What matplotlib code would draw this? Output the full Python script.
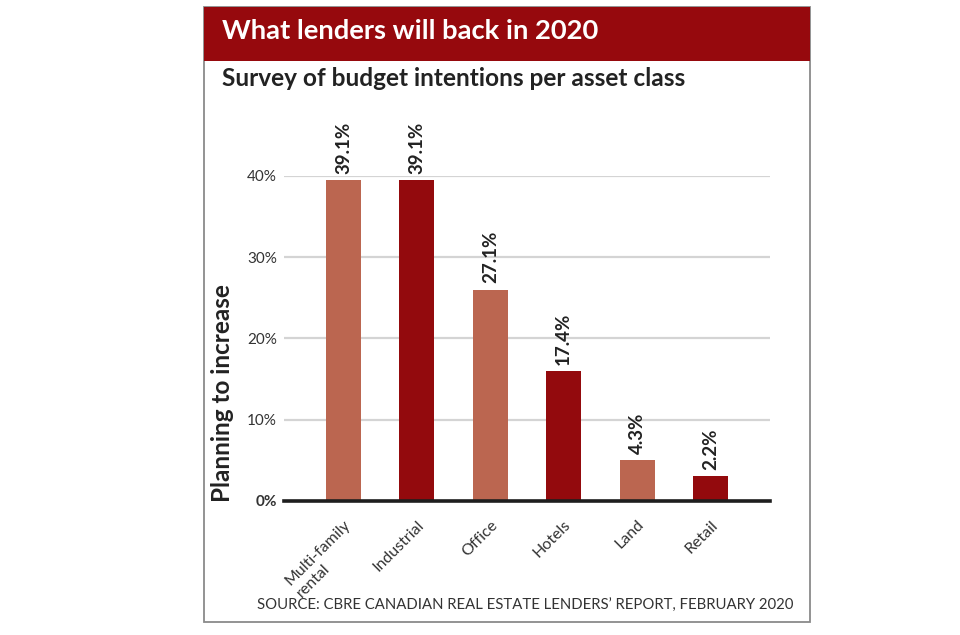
import matplotlib.pyplot as plt
from matplotlib.patches import Rectangle

# --- Data ---
categories = ["Multi-family\nrental", "Industrial", "Office", "Hotels", "Land", "Retail"]
bar_heights = [39.5, 39.5, 26.0, 16.0, 5.0, 3.1]
value_labels = ["39.1%", "39.1%", "27.1%", "17.4%", "4.3%", "2.2%"]
y_ticks = [0, 10, 20, 30, 40]
y_tick_labels = ["0%", "10%", "20%", "30%", "40%"]

light = "#bb6650"
dark = "#930a0d"
bar_colors = [light, dark, light, dark, light, dark]

plt.rcParams.update(
    {
        "font.family": ["Lato", "DejaVu Sans"],
        "text.color": "#222222",
    }
)

W, H = 960, 635
fig = plt.figure(figsize=(W / 100, H / 100), dpi=100)

# outer frame and red header band
fig.patches.append(
    Rectangle((204 / W, 1 - 622 / H), 606 / W, 615 / H, transform=fig.transFigure,
              facecolor="none", edgecolor="#8a8a8a", lw=1.3, zorder=-1)
)
fig.patches.append(
    Rectangle((204 / W, 1 - 61 / H), 606 / W, 54 / H, transform=fig.transFigure,
              facecolor="#96090d", edgecolor="none", zorder=-1)
)
fig.text(222 / W, 1 - 31 / H, "What lenders will back in 2020", color="white",
         fontsize=19.7, fontweight="bold", va="center", ha="left")
fig.text(222 / W, 1 - 78 / H, "Survey of budget intentions per asset class",
         color="#222222", fontsize=17.6, fontweight="bold", va="center", ha="left")

# --- Axes ---
ax = fig.add_axes([284 / W, 1 - 501 / H, 486 / W, (501 - 175.7) / H])
ax.set_zorder(2)
ax.patch.set_visible(False)
x = list(range(len(categories)))
ax.bar(x, bar_heights, width=0.477, color=bar_colors, zorder=2)

for xi, h, lab in zip(x, bar_heights, value_labels):
    ax.annotate(lab, (xi, h), xytext=(0, 4.5), textcoords="offset points",
                rotation=90, ha="center", va="bottom", fontsize=13.5,
                fontweight="bold", color="#222222")

ax.set_xlim(-0.81, 5.81)
ax.set_ylim(0, 40)
ax.set_yticks(y_ticks)
ax.set_yticklabels(y_tick_labels, fontsize=11, color="#333333")
ax.get_yticklabels()[0].set_fontweight("bold")
ax.tick_params(axis="y", length=0, pad=5)
ax.yaxis.grid(True, color="#d4d4d4", lw=1.6, zorder=0)
ax.set_axisbelow(True)

ax.set_xticks(x)
ax.set_xticklabels(categories, rotation=45, ha="right", rotation_mode="anchor",
                   fontsize=11.5, color="#333333", multialignment="left")
ax.tick_params(axis="x", length=0, pad=12)

for s in ax.spines.values():
    s.set_visible(False)
ax.axhline(0, color="#1e1e1e", lw=2.6, zorder=3, clip_on=False)

fig.text(222 / W, 1 - 393 / H, "Planning to increase", rotation=90, fontsize=17.5,
         fontweight="bold", ha="center", va="center", color="#222222")

fig.text(793 / W, 1 - 606 / H,
         "SOURCE: CBRE CANADIAN REAL ESTATE LENDERS\u2019 REPORT, FEBRUARY 2020",
         fontsize=10.7, ha="right", va="center", color="#333333")

plt.savefig("out.png", dpi=100)
